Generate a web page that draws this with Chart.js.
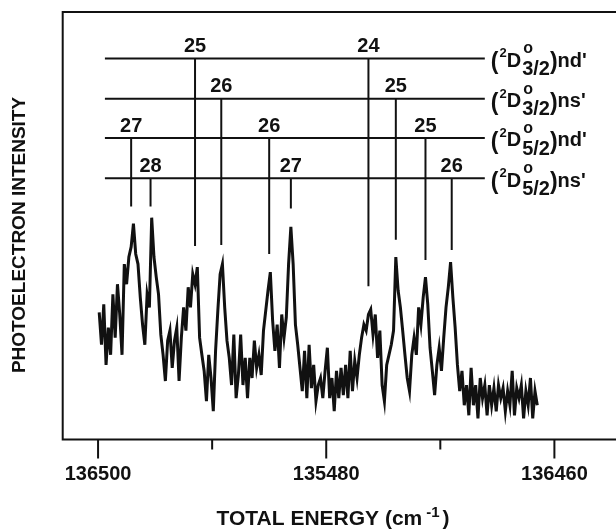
<!DOCTYPE html>
<html>
<head>
<meta charset="utf-8">
<script src="https://cdn.jsdelivr.net/npm/chart.js@4/dist/chart.umd.min.js"></script>
<style>
  html, body { margin: 0; padding: 0; background: #fff; overflow: hidden; }
</style>
</head>
<body>
<canvas id="spectrum" width="616" height="529"></canvas>
<script>
// scan sampling (cm-1), first point on the left, step towards lower energy
const energyStart = 136499.9
const energyStep = 0.2

// photoelectron intensity, arbitrary units
const intensity = [
  126, 94, 134, 74, 111, 84, 144, 101, 154, 124,
  84, 174, 154, 181, 191, 214, 184, 174, 141, 114,
  94, 144, 131, 220, 181, 161, 144, 104, 84, 58,
  98, 108, 71, 98, 111, 58, 101, 131, 108, 151,
  131, 164, 154, 171, 101, 84, 68, 38, 84, 61,
  28, 88, 128, 164, 174, 131, 98, 81, 54, 104,
  41, 64, 104, 54, 81, 41, 81, 61, 98, 71,
  84, 64, 108, 128, 148, 166, 118, 88, 114, 71,
  124, 101, 121, 174, 211, 174, 114, 94, 71, 48,
  88, 41, 94, 51, 74, 38, 54, 61, 41, 68,
  91, 41, 61, 28, 68, 41, 71, 44, 74, 41,
  88, 48, 78, 61, 84, 101, 114, 108, 124, 129,
  104, 124, 81, 108, 54, 38, 74, 84, 94, 108,
  181, 148, 131, 108, 84, 61, 48, 84, 101, 84,
  131, 114, 141, 161, 134, 91, 68, 44, 74, 91,
  68, 101, 131, 151, 176, 141, 111, 74, 48, 68,
  34, 54, 24, 71, 34, 54, 21, 61, 41, 54,
  24, 54, 34, 51, 28, 54, 41, 51, 28, 48,
  34, 68, 24, 51, 41, 54, 21, 48, 34, 61,
  21, 48, 34
]

const tickValues = [136500, 136490, 136480, 136470, 136460]
const tickLabels = ['136500', '', '135480', '', '136460']

// Rydberg series rows (top to bottom)
const rowTerms = ['3/2', '3/2', '5/2', '5/2']
const rowSeries = ["nd'", "ns'", "nd'", "ns'"]
const rowLevels = [378, 338, 299, 259]
const rowStart = 136499.4
const rowEnd = 136466.1

// assigned levels: row index, energy, n label, where the marker stops
const lineRow = [2, 3, 0, 1, 2, 3, 0, 1, 2, 3]
const lineEnergy = [136497.1, 136495.4, 136491.5, 136489.2, 136485.0, 136483.1, 136476.3, 136473.9, 136471.3, 136469.0]
const lineLabel = ['27', '28', '25', '26', '26', '27', '24', '25', '25', '26']
const lineEnd = [231, 231, 192, 193, 184, 229, 152, 198, 178, 188]

const energies = intensity.map((v, i) => energyStart - i * energyStep)

const FONT = "'Liberation Sans', Arial, Helvetica, sans-serif"

const datasets = [{
  data: energies.map((e, i) => ({x: e, y: intensity[i]})),
  borderColor: '#111',
  borderWidth: 3,
  pointRadius: 0,
  tension: 0,
}]

rowLevels.forEach(lv => {
  datasets.push({
    data: [{x: rowStart, y: lv}, {x: rowEnd, y: lv}],
    borderColor: '#111',
    borderWidth: 2,
    pointRadius: 0,
  })
})

lineEnergy.forEach((e, k) => {
  datasets.push({
    data: [{x: e, y: rowLevels[lineRow[k]]}, {x: e, y: lineEnd[k]}],
    borderColor: '#111',
    borderWidth: 2,
    pointRadius: 0,
  })
})

const decorations = {
  id: 'decorations',
  afterDraw(chart) {
    const {ctx, chartArea: a, scales: {x, y}} = chart
    ctx.save()
    ctx.strokeStyle = '#111'
    ctx.fillStyle = '#111'
    ctx.lineWidth = 2

    // frame (right side is off the page)
    ctx.beginPath()
    ctx.moveTo(a.right + 5, a.top)
    ctx.lineTo(a.left, a.top)
    ctx.lineTo(a.left, a.bottom)
    ctx.lineTo(a.right + 5, a.bottom)
    ctx.stroke()

    // tick marks, long ones under the labels
    x.ticks.forEach((t, i) => {
      const px = x.getPixelForValue(t.value)
      const len = tickLabels[i] ? 19 : 10
      ctx.beginPath()
      ctx.moveTo(px, a.bottom)
      ctx.lineTo(px, a.bottom + len)
      ctx.stroke()
    })

    // n labels over the markers
    ctx.font = 'bold 20px ' + FONT
    ctx.textAlign = 'center'
    ctx.textBaseline = 'alphabetic'
    lineLabel.forEach((lab, k) => {
      const px = x.getPixelForValue(lineEnergy[k])
      const py = y.getPixelForValue(rowLevels[lineRow[k]])
      ctx.fillText(lab, px, py - 6.5)
    })

    // series names at the right end of each row
    ctx.textAlign = 'left'
    rowLevels.forEach((lv, r) => {
      const L = y.getPixelForValue(lv)
      let cx = x.getPixelForValue(rowEnd) + 6
      ctx.font = 'bold 23px ' + FONT
      ctx.fillText('(', cx, L + 11)
      cx += ctx.measureText('(').width + 1
      ctx.font = 'bold 13px ' + FONT
      ctx.fillText('2', cx, L - 1)
      cx += ctx.measureText('2').width
      ctx.font = 'bold 20px ' + FONT
      ctx.fillText('D', cx, L + 8.4)
      cx += ctx.measureText('D').width + 1
      ctx.font = 'bold 16px ' + FONT
      ctx.fillText('o', cx + 1, L - 5)
      ctx.font = 'bold 20px ' + FONT
      ctx.fillText(rowTerms[r], cx, L + 16.7)
      cx += ctx.measureText(rowTerms[r]).width
      ctx.font = 'bold 23px ' + FONT
      ctx.fillText(')', cx, L + 11)
      cx += ctx.measureText(')').width
      ctx.font = 'bold 20px ' + FONT
      ctx.fillText(rowSeries[r], cx, L + 8.4)
    })

    // axis titles
    ctx.font = 'bold 21px ' + FONT
    let tx = 216.5
    const main = 'TOTAL ENERGY (cm'
    ctx.fillText(main, tx, 525)
    tx += ctx.measureText(main).width + 4
    ctx.font = 'bold 15px ' + FONT
    ctx.fillText('-1', tx, 517)
    tx += ctx.measureText('-1').width + 3
    ctx.font = 'bold 21px ' + FONT
    ctx.fillText(')', tx, 525)

    ctx.translate(20, 235)
    ctx.rotate(-Math.PI / 2)
    ctx.font = 'bold 19px ' + FONT
    ctx.textAlign = 'center'
    ctx.textBaseline = 'middle'
    ctx.fillText('PHOTOELECTRON INTENSITY', 0, 0)
    ctx.restore()
  }
}

const ctx = document.getElementById('spectrum')

const spectrumChart = new Chart(ctx, {
  type: 'line',
  data: {datasets: datasets},
  options: {
    responsive: false,
    animation: false,
    layout: {
      padding: {left: 62.7, top: 12, right: 0, bottom: 20.5}
    },
    scales: {
      x: {
        type: 'linear',
        reverse: true,
        min: 136454.6,
        max: 136503.1,
        afterBuildTicks: scale => {
          scale.ticks = tickValues.map(v => ({value: v}))
        },
        grid: {display: false, drawTicks: false},
        border: {display: false},
        ticks: {
          padding: 22.5,
          color: '#111',
          maxRotation: 0,
          autoSkip: false,
          font: {family: FONT, size: 20, weight: 'bold'},
          callback: (v, i) => tickLabels[i]
        }
      },
      y: {
        display: false,
        min: 0,
        max: 424
      }
    },
    plugins: {
      legend: {display: false},
      tooltip: {enabled: false}
    }
  },
  plugins: [decorations]
})
</script>
</body>
</html>
